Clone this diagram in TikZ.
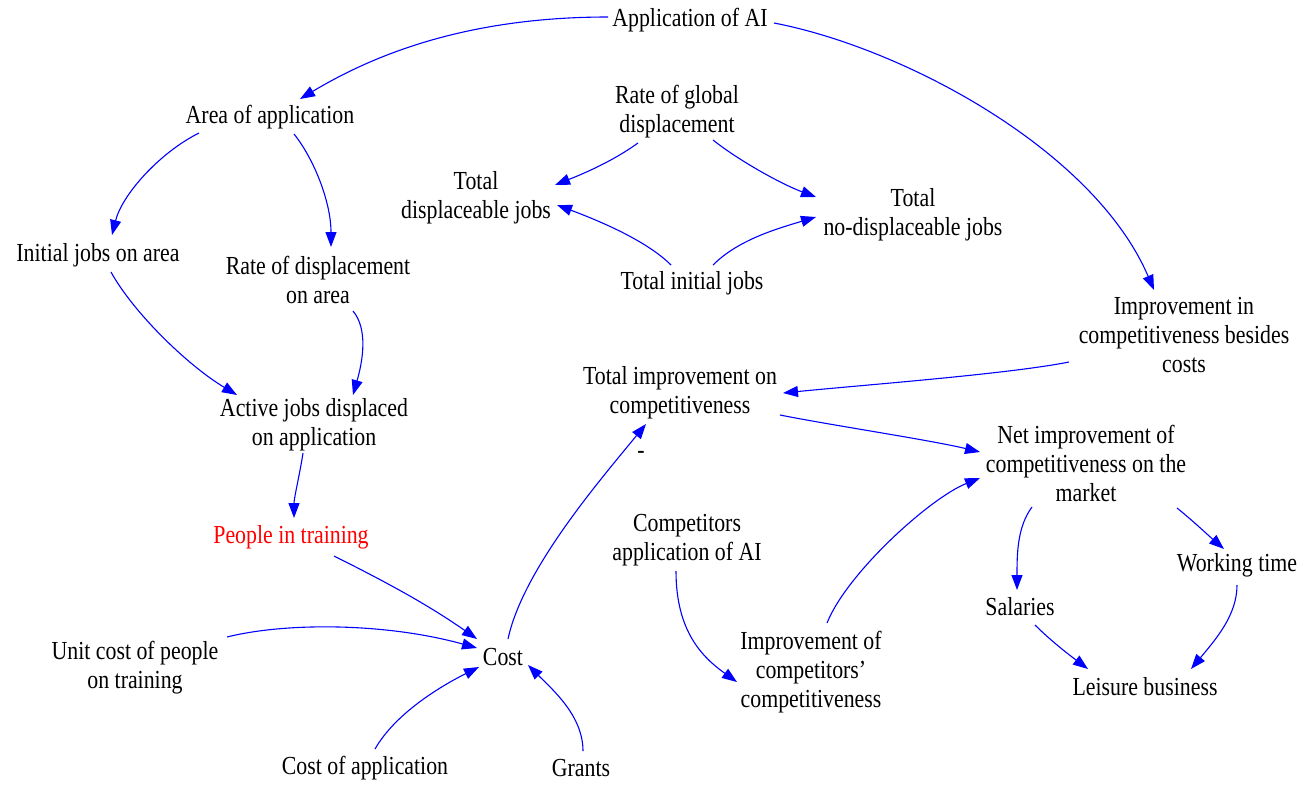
\documentclass[tikz,border=0pt]{standalone}
\usepackage{fontspec}
\setmainfont{Liberation Serif}[FakeStretch=0.84]
\usetikzlibrary{arrows.meta}
\definecolor{linkblue}{RGB}{0,0,255}
\definecolor{hotred}{RGB}{255,0,0}
\tikzset{
  var/.style={align=center, inner sep=0pt, font=\fontsize{26}{29}\selectfont},
  link/.style={draw=linkblue, line width=1.1pt, -{Triangle[length=15pt,width=11pt]}},
}
\begin{document}
\begin{tikzpicture}[x=1pt, y=-1pt]
\useasboundingbox (0,0) rectangle (1297,785);

% variables
\node[var] (app)   at (690,20)  {Application of AI};
\node[var] (area)  at (270,117) {Area of application};
\node[var] (ratg)  at (677,112) {Rate of global\\displacement};
\node[var] (tdj)   at (476,198) {Total\\displaceable jobs};
\node[var] (tnd)   at (913,215) {Total\\no-displaceable jobs};
\node[var] (ija)   at (98,255)  {Initial jobs on area};
\node[var] (rda)   at (318,280) {Rate of displacement\\on area};
\node[var] (tij)   at (692,283) {Total initial jobs};
\node[var] (ibc)   at (1184,335) {Improvement in\\competitiveness besides\\costs};
\node[var] (tic)   at (680,393) {Total improvement on\\competitiveness};
\node[var] (aja)   at (314,425) {Active jobs displaced\\on application};
\node[var] (net)   at (1086,463) {Net improvement of\\competitiveness on the\\market};
\node[var, text=hotred] (pit) at (291,537) {People in training};
\node[var] (cai)   at (687,540) {Competitors\\application of AI};
\node[var] (wt)    at (1237,565) {Working time};
\node[var] (sal)   at (1020,607) {Salaries};
\node[var] (uct)   at (135,668) {Unit cost of people\\on training};
\node[var] (cost)  at (503,657) {Cost};
\node[var] (icc)   at (811,672) {Improvement of\\competitors'\\competitiveness};
\node[var] (lb)    at (1145,687) {Leisure business};
\node[var] (coa)   at (365,768) {Cost of application};
\node[var] (grants) at (581,768) {Grants};
\node[var] (minus) at (641,455) {-};

% causal links
\draw[link] ([shift={(-82,-3)}]app.center) .. controls +(-140,0) and +(75,-45) .. ([shift={(30,-18)}]area.center);
\draw[link] ([shift={(84,3)}]app.center) .. controls +(130,25) and +(-60,-140) .. ([shift={(-30,-45)}]ibc.center);
\draw[link] ([shift={(-71,16)}]area.center) .. controls +(-40,20) and +(10,-40) .. ([shift={(14,-20)}]ija.center);
\draw[link] ([shift={(24,17)}]area.center) .. controls +(20,25) and +(0,-45) .. ([shift={(13,-33)}]rda.center);
\draw[link] ([shift={(-39,31)}]ratg.center) .. controls +(-25,18) and +(30,-12) .. ([shift={(79,-13)}]tdj.center);
\draw[link] ([shift={(36,28)}]ratg.center) .. controls +(25,20) and +(-35,-13) .. ([shift={(-97,-18)}]tnd.center);
\draw[link] ([shift={(-21,-18)}]tij.center) .. controls +(-25,-25) and +(40,15) .. ([shift={(81,7)}]tdj.center);
\draw[link] ([shift={(21,-18)}]tij.center) .. controls +(25,-25) and +(-40,12) .. ([shift={(-97,2)}]tnd.center);
\draw[link] ([shift={(13,17)}]ija.center) .. controls +(22,40) and +(-50,-30) .. ([shift={(-77,-30)}]aja.center);
\draw[link] ([shift={(35,31)}]rda.center) .. controls +(15,18) and +(10,-35) .. ([shift={(39,-30)}]aja.center);
\draw[link] ([shift={(-11,28)}]aja.center) .. controls +(-3,20) and +(0,-20) .. ([shift={(3,-19)}]pit.center);
\draw[link] ([shift={(43,19)}]pit.center) .. controls +(50,25) and +(-50,-35) .. ([shift={(-26,-18)}]cost.center);
\draw[link] ([shift={(92,-31)}]uct.center) .. controls +(60,-15) and +(-90,-25) .. ([shift={(-26,-9)}]cost.center);
\draw[link] ([shift={(10,-19)}]coa.center) .. controls +(20,-35) and +(-40,20) .. ([shift={(-24,10)}]cost.center);
\draw[link] ([shift={(2,-17)}]grants.center) .. controls +(0,-35) and +(25,25) .. ([shift={(25,8)}]cost.center);
\draw[link] ([shift={(5,-18)}]cost.center) .. controls +(15,-70) and +(-45,55) .. ([shift={(-34,31)}]tic.center);
\draw[link] ([shift={(-115,27)}]ibc.center) .. controls +(-60,12) and +(80,-8) .. ([shift={(103,0)}]tic.center);
\draw[link] ([shift={(100,22)}]tic.center) .. controls +(50,10) and +(-50,-12) .. ([shift={(-106,-11)}]net.center);
\draw[link] ([shift={(16,-49)}]icc.center) .. controls +(20,-50) and +(-50,20) .. ([shift={(-106,15)}]net.center);
\draw[link] ([shift={(-11,31)}]cai.center) .. controls +(0,60) and +(-35,-25) .. ([shift={(-74,10)}]icc.center);
\draw[link] ([shift={(-54,44)}]net.center) .. controls +(-15,20) and +(0,-35) .. ([shift={(-3,-17)}]sal.center);
\draw[link] ([shift={(91,45)}]net.center) .. controls +(15,12) and +(-15,-13) .. ([shift={(-13,-16)}]wt.center);
\draw[link] ([shift={(15,18)}]sal.center) .. controls +(15,15) and +(-20,-15) .. ([shift={(-57,-18)}]lb.center);
\draw[link] ([shift={(0,20)}]wt.center) .. controls +(0,30) and +(25,-30) .. ([shift={(46,-18)}]lb.center);
\end{tikzpicture}
\end{document}
